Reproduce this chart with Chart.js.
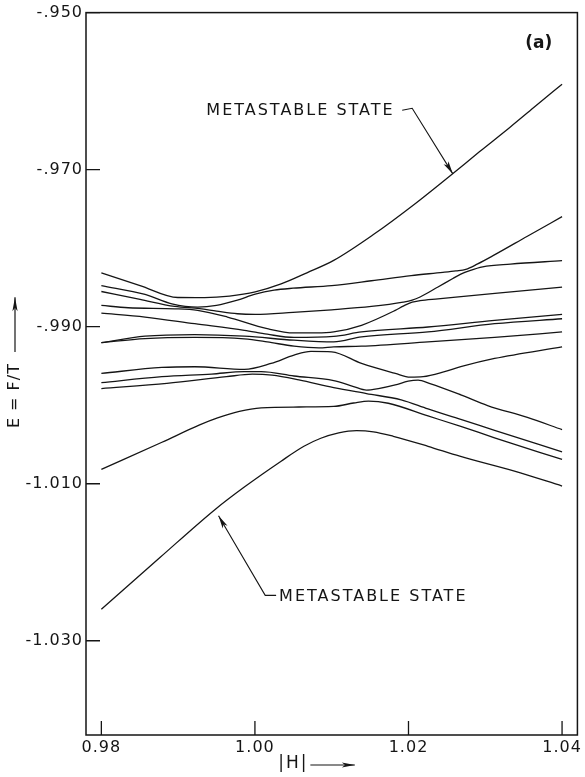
<!DOCTYPE html>
<html>
<head>
<meta charset="utf-8">
<script src="https://cdn.jsdelivr.net/npm/chart.js@4.4.1/dist/chart.umd.min.js"></script>
<style>
  html, body { margin: 0; padding: 0; background: #fff; }
</style>
</head>
<body>
<canvas id="levelsChart" width="585" height="777"></canvas>
<script>
// axis ticks
const H_TICKS = [0.98, 1.00, 1.02, 1.04];
const E_TICKS = [-0.95, -0.97, -0.99, -1.01, -1.03];

// energy levels, top to bottom (|H|, E = F/T)
const lvl1H = [0.98, 0.98504, 0.98996, 0.99345, 0.99668, 1.00004, 1.00341, 1.00677, 1.01026, 1.01543, 1.02061, 1.02539, 1.02927, 1.03315, 1.03651, 1.04];
const lvl1E = [-0.98316, -0.98476, -0.98628, -0.98630, -0.98611, -0.98557, -0.98456, -0.98314, -0.98156, -0.97827, -0.97453, -0.97080, -0.96770, -0.96466, -0.96194, -0.95911];

const lvl2H = [0.98, 0.98569, 0.98918, 0.99254, 0.99500, 0.99772, 1.00004, 1.00250, 1.00496, 1.01000, 1.01517, 1.02035, 1.02448, 1.02617, 1.02746, 1.02901, 1.03095, 1.03548, 1.04];
const lvl2E = [-0.98476, -0.98590, -0.98709, -0.98751, -0.98729, -0.98662, -0.98586, -0.98535, -0.98510, -0.98476, -0.98415, -0.98349, -0.98308, -0.98289, -0.98270, -0.98200, -0.98099, -0.97848, -0.97599];

const lvl3H = [0.98, 0.98504, 0.98957, 0.99280, 0.99500, 0.99772, 1.00004, 1.00496, 1.01000, 1.01517, 1.01931, 1.02048, 1.02151, 1.02384, 1.02578, 1.02681, 1.02798, 1.02966, 1.03328, 1.04];
const lvl3E = [-0.98552, -0.98653, -0.98742, -0.98770, -0.98801, -0.98835, -0.98843, -0.98818, -0.98785, -0.98742, -0.98687, -0.98662, -0.98622, -0.98494, -0.98386, -0.98330, -0.98285, -0.98238, -0.98203, -0.98159];

const lvl4H = [0.98, 0.98349, 0.98957, 0.99254, 0.99642, 1.00160, 1.00509, 1.00806, 1.01026, 1.01388, 1.01828, 1.01931, 1.02048, 1.02151, 1.02384, 1.03160, 1.04];
const lvl4E = [-0.98729, -0.98759, -0.98772, -0.98792, -0.98877, -0.99025, -0.99080, -0.99080, -0.99067, -0.98982, -0.98792, -0.98738, -0.98687, -0.98668, -0.98646, -0.98573, -0.98497];

const lvl5H = [0.98, 0.98569, 0.99216, 0.99862, 1.00160, 1.00509, 1.01026, 1.01388, 1.02254, 1.03121, 1.04];
const lvl5E = [-0.98827, -0.98877, -0.98962, -0.99046, -0.99096, -0.99137, -0.99124, -0.99067, -0.99004, -0.98919, -0.98843];

const lvl6H = [0.98, 0.98569, 0.99216, 0.99862, 1.00509, 1.01026, 1.01388, 1.02254, 1.03121, 1.04];
const lvl6E = [-0.99203, -0.99121, -0.99101, -0.99121, -0.99172, -0.99194, -0.99130, -0.99067, -0.98962, -0.98899];

const lvl7H = [0.98, 0.98569, 0.99216, 0.99862, 1.00160, 1.00509, 1.00832, 1.01026, 1.01388, 1.02254, 1.03121, 1.04];
const lvl7E = [-0.99203, -0.99152, -0.99137, -0.99156, -0.99194, -0.99248, -0.99270, -0.99257, -0.99248, -0.99194, -0.99137, -0.99067];

const lvl8H = [0.98, 0.98789, 0.99216, 0.99862, 1.00211, 1.00509, 1.00729, 1.01000, 1.01388, 1.01828, 1.02022, 1.02190, 1.02470, 1.02681, 1.03121, 1.04];
const lvl8E = [-0.99595, -0.99519, -0.99510, -0.99544, -0.99468, -0.99362, -0.99314, -0.99320, -0.99468, -0.99595, -0.99643, -0.99637, -0.99573, -0.99510, -0.99405, -0.99257];

const lvl9H = [0.98, 0.98789, 0.99435, 0.99862, 1.00082, 1.00509, 1.01026, 1.01285, 1.01453, 1.01608, 1.01828, 1.01996, 1.02125, 1.02280, 1.02681, 1.03030, 1.03548, 1.04];
const lvl9E = [-0.99713, -0.99637, -0.99603, -0.99573, -0.99573, -0.99628, -0.99687, -0.99763, -0.99808, -0.99789, -0.99742, -0.99694, -0.99681, -0.99725, -0.99868, -1.00004, -1.00156, -1.00311];

const lvl10H = [0.98, 0.98854, 0.99629, 0.99966, 1.00224, 1.00573, 1.01026, 1.01453, 1.01905, 1.02254, 1.02681, 1.03121, 1.04];
const lvl10E = [-0.99789, -0.99722, -0.99637, -0.99605, -0.99618, -0.99678, -0.99776, -0.99852, -0.99932, -1.00048, -1.00181, -1.00320, -1.00595];

const lvl11H = [0.98, 0.98789, 0.99280, 0.99513, 0.99797, 1.00082, 1.00573, 1.01026, 1.01285, 1.01479, 1.01737, 1.02254, 1.02681, 1.03121, 1.04];
const lvl11E = [-1.00818, -1.00472, -1.00251, -1.00162, -1.00080, -1.00035, -1.00023, -1.00016, -0.99972, -0.99947, -0.99975, -1.00137, -1.00270, -1.00415, -1.00691];

const lvl12H = [0.98, 0.98763, 0.99474, 0.99862, 1.00341, 1.00638, 1.00858, 1.01091, 1.01323, 1.01543, 1.01802, 1.02254, 1.02668, 1.03380, 1.04];
const lvl12E = [-1.02599, -1.01940, -1.01333, -1.01042, -1.00713, -1.00523, -1.00421, -1.00352, -1.00324, -1.00339, -1.00396, -1.00523, -1.00649, -1.00839, -1.01029];

const levels = [
  [lvl1H, lvl1E], [lvl2H, lvl2E], [lvl3H, lvl3E], [lvl4H, lvl4E],
  [lvl5H, lvl5E], [lvl6H, lvl6E], [lvl7H, lvl7E], [lvl8H, lvl8E],
  [lvl9H, lvl9E], [lvl10H, lvl10E], [lvl11H, lvl11E], [lvl12H, lvl12E]
];

const INK = '#151515';
const FONT = 'DejaVu Sans';

function drawArrow(ctx, pts, headLen, headHalf) {
  ctx.beginPath();
  ctx.moveTo(pts[0][0], pts[0][1]);
  for (let i = 1; i < pts.length; i++) ctx.lineTo(pts[i][0], pts[i][1]);
  ctx.stroke();
  const [x1, y1] = pts[pts.length - 2];
  const [x2, y2] = pts[pts.length - 1];
  const a = Math.atan2(y2 - y1, x2 - x1);
  const c = Math.cos(a), s = Math.sin(a);
  ctx.beginPath();
  ctx.moveTo(x2, y2);
  ctx.lineTo(x2 - headLen * c + headHalf * s, y2 - headLen * s - headHalf * c);
  ctx.lineTo(x2 - headLen * 0.75 * c, y2 - headLen * 0.75 * s);
  ctx.lineTo(x2 - headLen * c - headHalf * s, y2 - headLen * s + headHalf * c);
  ctx.closePath();
  ctx.fill();
}

// frame, inward tick marks, labels and arrows
const decor = {
  id: 'decor',
  beforeUpdate(chart) { chart.ctx.letterSpacing = '1px'; },
  beforeDraw(chart) { chart.ctx.letterSpacing = '1px'; },
  afterDraw(chart) {
    const { ctx, chartArea: a, scales: { x, y } } = chart;
    ctx.save();
    ctx.strokeStyle = INK;
    ctx.fillStyle = INK;
    ctx.lineWidth = 1.5;
    ctx.strokeRect(a.left, a.top, a.right - a.left, a.bottom - a.top);

    ctx.lineWidth = 1.3;
    ctx.beginPath();
    E_TICKS.forEach(v => {
      const p = y.getPixelForValue(v);
      ctx.moveTo(a.left, p);
      ctx.lineTo(a.left + 14, p);
    });
    H_TICKS.forEach(v => {
      const p = x.getPixelForValue(v);
      ctx.moveTo(p, a.bottom);
      ctx.lineTo(p, a.bottom - 14);
    });
    ctx.stroke();

    // METASTABLE STATE labels
    ctx.font = `16px "${FONT}"`;
    ctx.letterSpacing = '2px';
    ctx.textBaseline = 'middle';
    ctx.textAlign = 'left';
    ctx.fillText('METASTABLE STATE', x.getPixelForValue(0.99367), y.getPixelForValue(-0.96251));
    ctx.fillText('METASTABLE STATE', x.getPixelForValue(1.00315), y.getPixelForValue(-1.02443));

    ctx.lineWidth = 1.1;
    drawArrow(ctx, [
      [x.getPixelForValue(1.01918), y.getPixelForValue(-0.96244)],
      [x.getPixelForValue(1.02048), y.getPixelForValue(-0.96219)],
      [x.getPixelForValue(1.02578), y.getPixelForValue(-0.97054)]
    ], 13, 2.8);
    drawArrow(ctx, [
      [x.getPixelForValue(1.00276), y.getPixelForValue(-1.02422)],
      [x.getPixelForValue(1.00134), y.getPixelForValue(-1.02422)],
      [x.getPixelForValue(0.99526), y.getPixelForValue(-1.01409)]
    ], 13, 2.8);

    // panel tag
    ctx.letterSpacing = '0px';
    ctx.font = `bold 17px "${FONT}"`;
    ctx.textAlign = 'center';
    ctx.fillText('(a)', x.getPixelForValue(1.03696), y.getPixelForValue(-0.95396));

    // x axis title
    ctx.font = `17px "${FONT}"`;
    ctx.letterSpacing = '2px';
    ctx.fillText('|H|', x.getPixelForValue(1.00502), a.bottom + 29);
    ctx.lineWidth = 1.2;
    drawArrow(ctx, [
      [x.getPixelForValue(1.00722), a.bottom + 30],
      [x.getPixelForValue(1.01301), a.bottom + 30]
    ], 13, 2.6);

    // y axis title
    ctx.save();
    ctx.translate(a.left - 71, y.getPixelForValue(-0.99877));
    ctx.rotate(-Math.PI / 2);
    ctx.font = `16px "${FONT}"`;
    ctx.letterSpacing = '1px';
    ctx.fillText('E = F/T', 0, 0);
    ctx.restore();
    drawArrow(ctx, [
      [a.left - 71, y.getPixelForValue(-0.99321)],
      [a.left - 71, y.getPixelForValue(-0.98624)]
    ], 14, 2.6);

    ctx.restore();
  }
};

new Chart(document.getElementById('levelsChart').getContext('2d'), {
  type: 'scatter',
  data: {
    datasets: levels.map(([hs, es]) => ({
      data: hs.map((h, i) => ({ x: h, y: es[i] })),
      showLine: true,
      borderColor: INK,
      borderWidth: 1.3,
      pointRadius: 0,
      cubicInterpolationMode: 'monotone',
      fill: false
    }))
  },
  options: {
    responsive: false,
    animation: false,
    devicePixelRatio: 1,
    layout: { padding: { top: 10, right: 4, left: 0, bottom: 0 } },
    plugins: {
      legend: { display: false },
      tooltip: { enabled: false }
    },
    scales: {
      x: {
        type: 'linear',
        min: 0.978,
        max: 1.042,
        afterBuildTicks: scale => { scale.ticks = H_TICKS.map(v => ({ value: v })); },
        afterFit: scale => { scale.height = 42; },
        grid: { display: false, drawTicks: false },
        border: { display: false },
        ticks: {
          color: INK,
          font: { family: FONT, size: 16 },
          padding: 3,
          maxRotation: 0,
          autoSkip: false,
          callback: v => v.toFixed(2)
        }
      },
      y: {
        type: 'linear',
        min: -1.042,
        max: -0.950,
        afterBuildTicks: scale => { scale.ticks = E_TICKS.map(v => ({ value: v })); },
        afterFit: scale => { scale.width = 86; },
        grid: { display: false, drawTicks: false },
        border: { display: false },
        ticks: {
          color: INK,
          font: { family: FONT, size: 16 },
          padding: 3,
          autoSkip: false,
          callback: v => v.toFixed(3).replace('-0.', '-.')
        }
      }
    }
  },
  plugins: [decor]
});
</script>
</body>
</html>
